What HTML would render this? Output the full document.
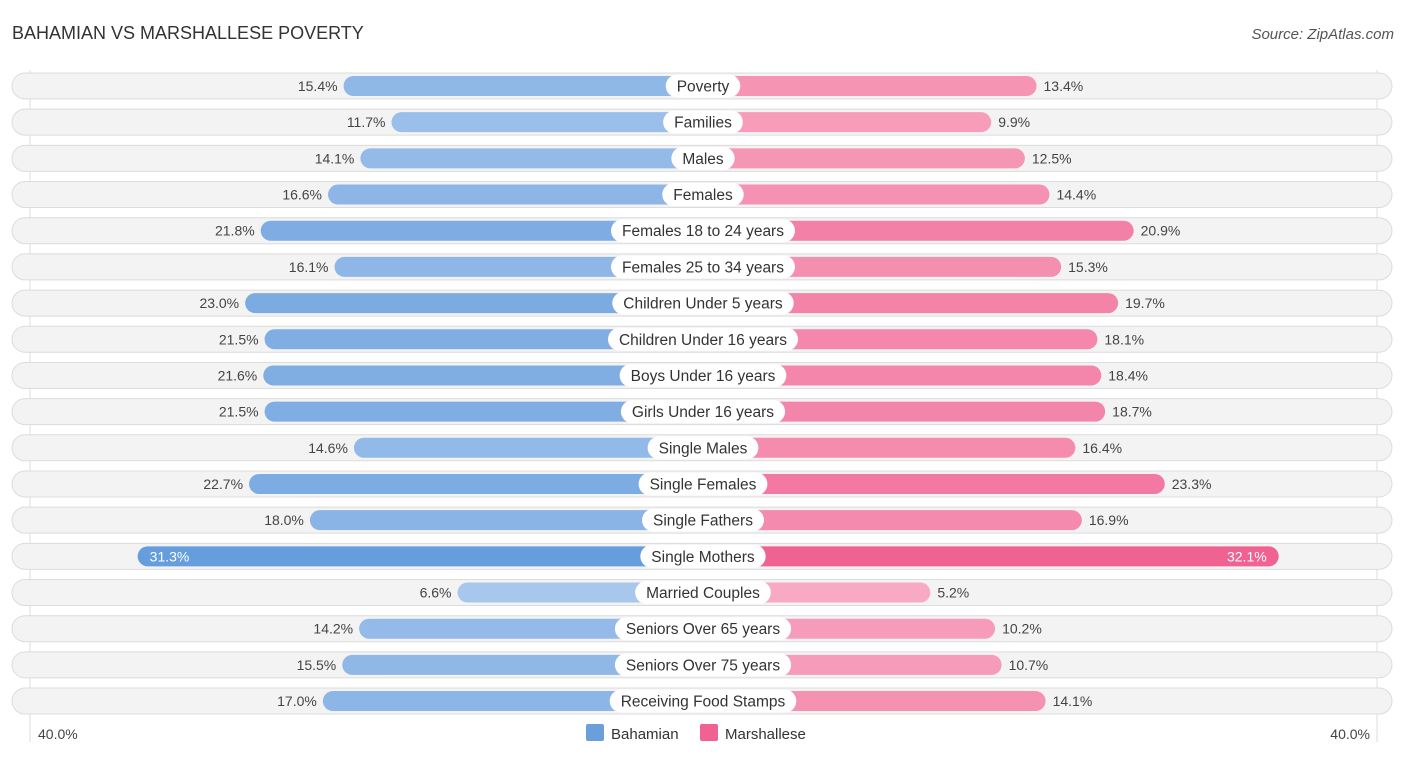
<!DOCTYPE html>
<html><head><meta charset="utf-8"><style>
body{margin:0;background:#fff;font-family:"Liberation Sans",sans-serif;}
svg text{font-family:"Liberation Sans",sans-serif;}
</style></head><body>
<svg id="chart" width="1406" height="758">
<text x="12" y="39" font-size="18" fill="#333">BAHAMIAN VS MARSHALLESE POVERTY</text>
<text x="1394" y="39" font-size="15" fill="#555" font-style="italic" text-anchor="end">Source: ZipAtlas.com</text>
<line x1="30" y1="70" x2="30" y2="742" stroke="#ddd"/>
<line x1="1377" y1="70" x2="1377" y2="742" stroke="#ddd"/>
<g id="rows"></g>
<text x="38" y="739" font-size="14" fill="#444">40.0%</text>
<text x="1370" y="739" font-size="14" fill="#444" text-anchor="end">40.0%</text>
<rect x="586" y="724" width="18" height="17" rx="2" fill="#6a9fdc"/>
<text x="611" y="739" font-size="15" fill="#333">Bahamian</text>
<rect x="700" y="724" width="18" height="17" rx="2" fill="#f06292"/>
<text x="725" y="739" font-size="15" fill="#333">Marshallese</text>
</svg>
<script>
const categories=["Poverty","Families","Males","Females","Females 18 to 24 years","Females 25 to 34 years","Children Under 5 years","Children Under 16 years","Boys Under 16 years","Girls Under 16 years","Single Males","Single Females","Single Fathers","Single Mothers","Married Couples","Seniors Over 65 years","Seniors Over 75 years","Receiving Food Stamps"];
const bahamian=[15.4,11.7,14.1,16.6,21.8,16.1,23.0,21.5,21.6,21.5,14.6,22.7,18.0,31.3,6.6,14.2,15.5,17.0];
const marshallese=[13.4,9.9,12.5,14.4,20.9,15.3,19.7,18.1,18.4,18.7,16.4,23.3,16.9,32.1,5.2,10.2,10.7,14.1];
const NS="http://www.w3.org/2000/svg";
const g=document.getElementById('rows');
const cx=703, off=160, k=12.95, y0=86, dy=36.18;
function xl(v){return cx-off-v*k;}
function xr(v){return cx+off+v*k;}
function mix(a,b,t){t=Math.max(0,Math.min(1,t));return 'rgb('+a.map((c,i)=>Math.round(c+(b[i]-c)*t)).join(',')+')';}
function mk(tag,attrs){const e=document.createElementNS(NS,tag);for(const a in attrs)e.setAttribute(a,attrs[a]);g.appendChild(e);return e;}
categories.forEach((c,i)=>{
  const y=y0+i*dy;
  let e=mk('rect',{x:12,y:y-13,width:1380,height:26,rx:13,fill:'#f3f3f3',stroke:'#dcdcdc'});
  
  
  const b=bahamian[i], m=marshallese[i];
  const tb=(b-5)/27, tm=(m-5)/27;
  const bl=xl(b);
  e=mk('rect',{x:bl,y:y-10,width:cx-bl,height:20,rx:10,fill:mix([172,202,238],[100,156,220],tb)});
  
  
  const rr=xr(m);
  e=mk('rect',{x:cx,y:y-10,width:rr-cx,height:20,rx:10,fill:mix([248,170,195],[240,98,146],tm)});
  
  
  const inside=b>28;
  e=mk('text',{x:inside?bl+12:bl-6,y:y+5,'font-size':14,fill:inside?'#fff':'#444','text-anchor':inside?'start':'end'});
  e.textContent=b.toFixed(1)+'%';
  
  
  const insideR=m>28;
  e=mk('text',{x:insideR?rr-12:rr+7,y:y+5,'font-size':14,fill:insideR?'#fff':'#444','text-anchor':insideR?'end':'start'});
  e.textContent=m.toFixed(1)+'%';
  
  
  const t=mk('text',{x:cx,y:y+5.5,'font-size':15.5,fill:'#333','text-anchor':'middle'});
  t.textContent=c;
  
  
  const w=t.getComputedTextLength()+22;
  const p=document.createElementNS(NS,'rect');
  p.setAttribute('x',cx-w/2);p.setAttribute('y',y-11.5);p.setAttribute('width',w);p.setAttribute('height',23);p.setAttribute('rx',11.5);p.setAttribute('fill','#fff');
  
  
  g.insertBefore(p,t);
});
</script>
</body></html>
